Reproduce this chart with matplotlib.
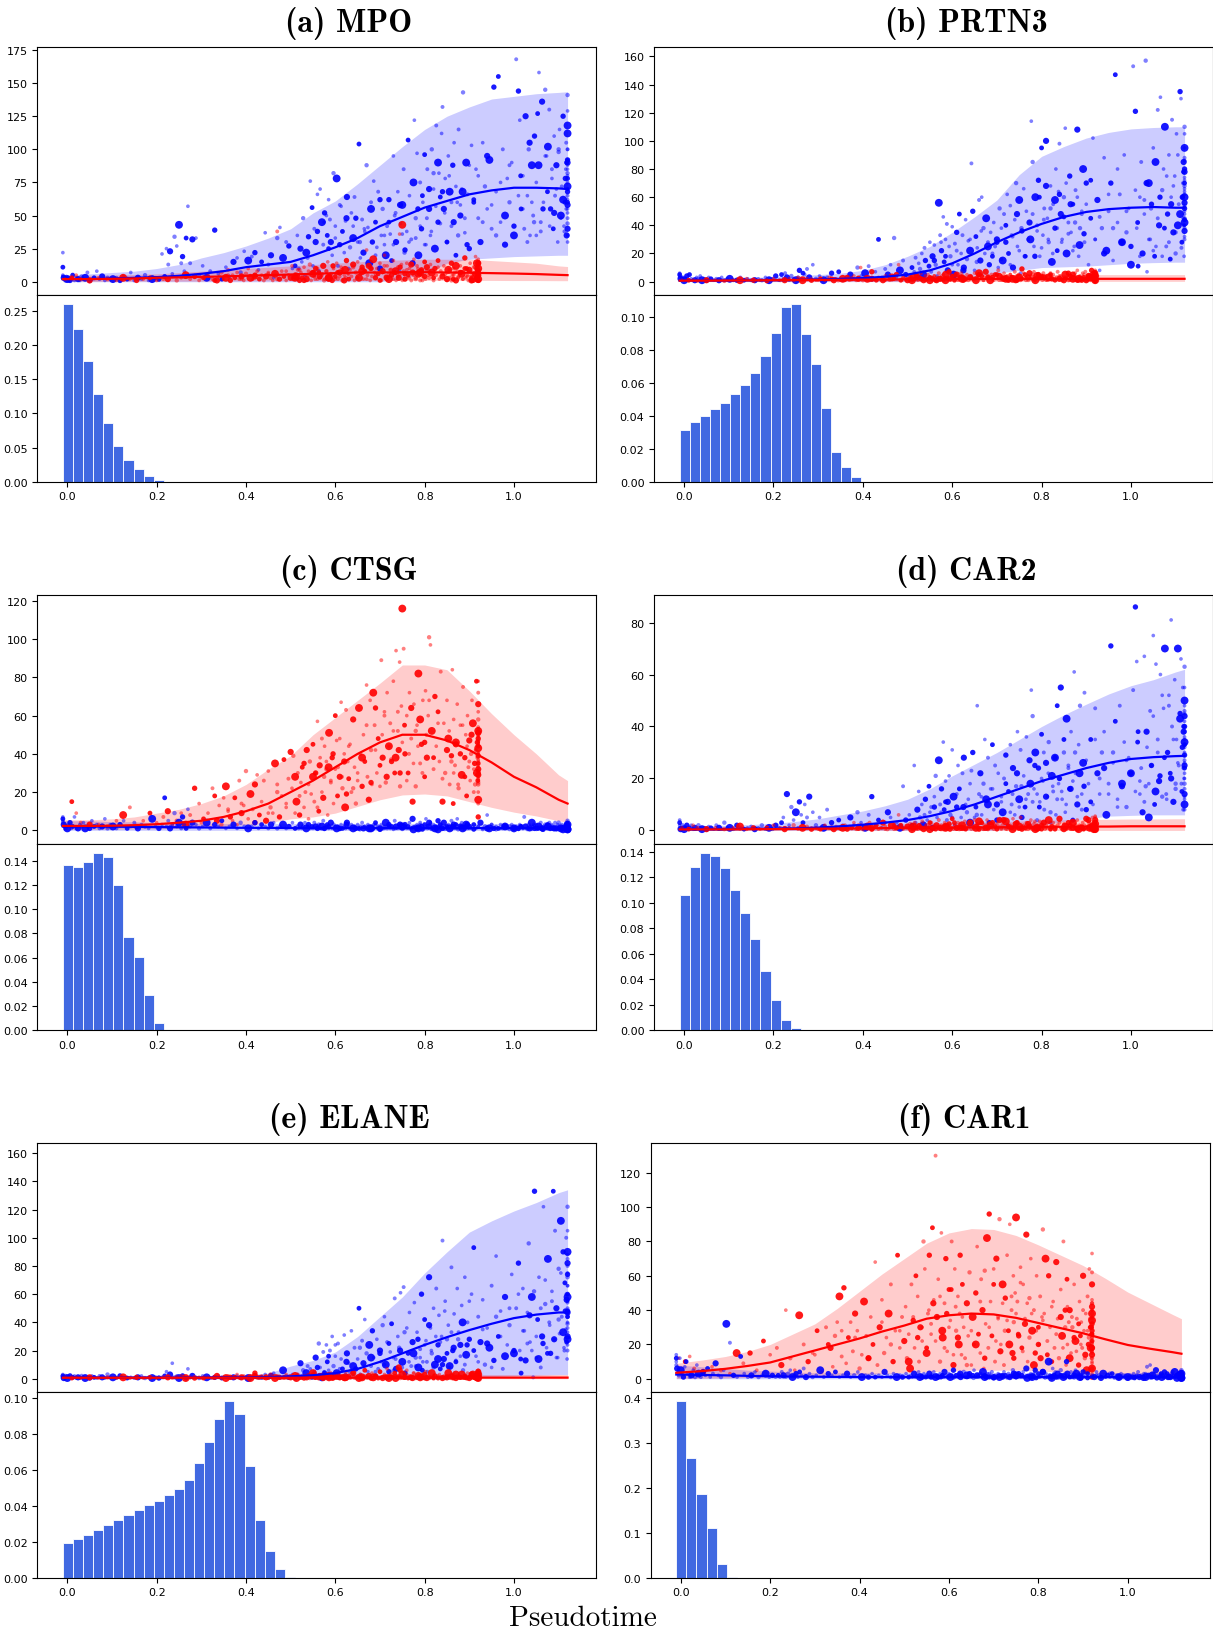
import numpy as np
import matplotlib
matplotlib.use("Agg")
import matplotlib.pyplot as plt

W, H = 1213, 1633
TITLES = ["(a) MPO", "(b) PRTN3", "(c) CTSG", "(d) CAR2", "(e) ELANE", "(f) CAR1"]

KX = [-0.01,0.05,0.1,0.15,0.2,0.25,0.3,0.35,0.4,0.45,0.5,0.55,0.6,0.65,0.7,0.75,0.8,0.85,0.9,0.95,1.0,1.05,1.1,1.12]

BLUE_X = [
[-0.01,-0.01,-0.01,-0.01,-0.008,-0.006,-0.004,-0.002,0.0,0.003,0.006,0.009,0.012,0.016,0.02],
[.024,.028,.032,.036,.04,.045,.05,.055,.06,.066,.072,.078,.084,.09,.096],
[.102,.11,.118,.126,.134,.142,.15,.158,.166,.174,.182,.19,.198,.205,.212],
[.218,.222,.226,.23,.235,.24,.245,.25,.255,.258,.262,.266,.27,.275,.28],
[.288,.295,.303,.312,.32,.33,.338,.346,.355,.363,.372,.38,.388,.396,.405],
[.413,.42,.428,.435,.443,.45,.456,.462,.47,.476,.483,.49,.496,.504,.51],
[.515,.518,.522,.525,.528,.532,.535,.538,.54,.544,.548,.55,.553,.556,.56,.563,.566,.57,.573,.576],
[.58,.582,.585,.588,.59,.593,.596,.6,.603,.606,.61,.613,.616,.62,.623,.626,.63,.633,.636,.64],
[.643,.646,.65,.653,.656,.66,.663,.666,.67,.673,.676,.68,.683,.686,.69,.693,.696,.7,.703,.706],
[.71,.713,.716,.72,.723,.726,.73,.733,.736,.74,.743,.746,.75,.753,.756,.76,.763,.766,.77,.773],
[.777,.78,.783,.786,.79,.793,.796,.8,.803,.806,.81,.813,.816,.82,.823,.826,.83,.832,.835,.838],
[.84,.843,.846,.85,.853,.856,.86,.863,.866,.87,.873,.876,.88,.883,.886,.89,.893,.896,.9,.905],
[.91,.915,.92,.925,.93,.935,.94,.945,.95,.955,.96,.965,.97,.975,.98,.985,.99,.995,1.0,1.005],
[1.01,1.013,1.016,1.02,1.023,1.026,1.03,1.033,1.036,1.04,1.043,1.046,1.05,1.053,1.056,1.06,1.063,1.066,1.07,1.073],
[1.076,1.079,1.082,1.085,1.088,1.09,1.092,1.095,1.098,1.1,1.102,1.105,1.107,1.11,1.112,1.114,1.116,1.117,1.118,1.119],
[1.12]*15,
[.56,.575,.585,.6,.61,.625,.64,.655,.665,.68,.69,.7,.71,.72,.73,.735,.745,.75,.755,.765],
[.775,.78,.785,.79,.795,.8,.805,.81,.815,.82,.825,.83,.835,.84,.845,.85,.855,.86,.865,.87],
[.875,.88,.885,.89,.895,.9,.91,.92,.93,.94,.95,.96,.97,.98,.99,1.0,1.01,1.015,1.02,1.03],
[1.035,1.04,1.045,1.05,1.055,1.06,1.065,1.07,1.075,1.08,1.085,1.09,1.095,1.1,1.105,1.11,1.113,1.115,1.117,1.118],
[1.12]*15,
]
RED_X = [
[-.005,.01,.02,.03,.05,.07,.09,.11,.125,.14,.155,.17,.185,.2,.215],
[.225,.235,.245,.255,.265,.275,.285,.295,.305,.315,.325,.335,.34,.345,.35],
[.355,.36,.365,.37,.375,.38,.385,.39,.395,.4,.405,.41,.415,.42,.425],
[.43,.435,.44,.445,.45,.455,.46,.465,.47,.475,.48,.485,.49,.495,.5],
[.503,.506,.51,.513,.516,.52,.523,.526,.53,.533,.536,.54,.543,.546,.55,.553,.556,.56,.563,.566],
[.57,.573,.576,.58,.583,.586,.59,.593,.596,.6,.603,.606,.61,.613,.616,.62,.622,.624,.625,.628],
[.63,.633,.636,.64,.643,.646,.65,.653,.656,.66,.663,.666,.67,.672,.675,.678,.68,.682,.685,.688],
[.69,.693,.696,.7,.703,.706,.71,.713,.716,.72,.723,.726,.73,.733,.736,.74,.742,.744,.745,.748],
[.75,.753,.756,.76,.763,.766,.77,.773,.776,.78,.783,.786,.79,.793,.796,.8,.802,.804,.805,.808],
[.81,.813,.816,.82,.823,.826,.83,.833,.836,.84,.843,.846,.85,.853,.856,.86,.862,.864,.865,.868],
[.87,.873,.876,.88,.883,.886,.89,.892,.894,.896,.898,.9,.902,.904,.906,.908,.91,.912,.914,.916],
[.92]*20,
[.3,.33,.36,.39,.42,.45,.47,.49,.51,.52,.53,.54,.55,.555,.56,.565,.57,.575,.58,.585],
[.59,.595,.6,.605,.61,.615,.62,.63,.64,.65,.66,.67,.68,.69,.7,.705,.71,.715,.72,.725],
[.73,.735,.74,.745,.75,.755,.76,.765,.77,.775,.78,.785,.79,.795,.8,.81,.82,.83,.84,.85],
[.855,.86,.865,.87,.875,.88,.885,.89,.895,.9,.905,.91,.913,.915,.917,.918,.918,.919,.919,.919],
[.92]*15,
]

MPO_BLUE = [
[22,11,5,4,3,2,1,4,2,3,1,2,5,1,3],[2,1,4,2,3,7,1,2,3,8,2,4,1,3,2],[2,3,1,4,2,7,1,3,2,5,1,2,3,2,21],
[4,25,13,23,6,34,27,43,14,19,8,33,57,14,32],[33,5,12,3,8,39,6,2,11,4,15,18,7,23,16],[19,22,9,15,37,13,20,3,33,41,18,30,27,10,12],
[35,10,25,15,48,5,22,18,34,76,56,12,40,30,66,8,70,45,28,52],[50,35,62,47,30,20,82,42,78,12,28,57,38,22,46,64,10,26,52,33],
[64,48,30,104,18,47,22,38,88,41,14,60,30,76,45,26,68,10,35,55],[28,20,42,62,36,16,95,50,30,68,8,44,58,85,24,38,107,65,32,14],
[122,48,97,20,75,40,60,96,28,85,55,35,100,70,25,118,45,82,64,112],[132,55,78,30,95,68,42,88,105,20,60,115,50,70,143,37,90,66,25,103],
[62,85,48,30,105,72,55,92,40,147,68,155,45,100,28,78,60,90,35,168],[144,122,55,80,40,125,65,100,35,88,50,110,35,127,158,45,136,60,145,95],
[102,130,55,78,40,110,65,88,30,98,115,50,72,125,42,60,85,105,35,92],[141,129,118,100,92,85,78,70,65,58,52,44,30,112,75],
[38,45,25,33,58,48,42,30,40,55,20,62,35,45,28,52,58,36,22,30],[75,33,55,42,65,28,48,70,38,82,57,90,44,68,52,30,80,60,45,72],
[35,58,68,48,28,88,60,80,45,95,58,35,75,50,88,42,65,80,55,30],[105,60,45,75,88,38,55,95,68,42,85,52,70,100,48,62,38,78,55,90],
[100,92,90,88,82,80,72,70,68,62,60,55,48,40,35],
]
MPO_RED = [
[2,3,5,2,1,3,2,1,3,2,1,2,3,1,2],[2,4,1,3,5,2,4,1,3,6,2,1,4,7,2],[3,9,1,5,3,7,2,4,1,6,10,3,2,5,8],[2,5,1,4,7,3,1,6,38,2,8,4,1,5,3],
[12,2,6,4,9,1,7,3,11,5,2,8,13,1,6,4,10,2,7,3],[5,12,2,8,15,3,6,1,10,4,14,2,7,11,1,5,9,3,16,6],[2,9,4,13,1,7,15,3,6,11,2,8,24,5,12,1,10,4,17,7],
[3,10,6,14,1,8,20,4,12,2,9,5,16,7,1,11,3,36,6,13],[43,8,2,14,5,10,1,7,17,3,12,6,1,9,4,15,2,8,11,5],[3,13,7,1,10,5,16,2,8,4,12,6,1,9,3,14,5,2,10,7],
[1,8,4,12,6,2,18,3,10,5,1,9,14,4,7,2,11,6,19,3],[17,15,14,13,12,11,10,9,8,7,6,6,5,5,4,3,3,2,1,1],
[3,1,5,2,4,6,2,8,3,9,1,5,7,2,10,4,6,1,8,3],[5,12,2,7,4,9,1,6,11,3,8,2,10,5,1,7,12,3,6,9],
[2,8,4,11,1,6,9,3,13,5,2,10,7,1,4,8,3,11,6,2],[9,1,5,12,3,7,2,10,4,8,1,6,11,3,14,5,9,2,7,4],
]
PRTN3_BLUE = [
[6,5,4,3,2,1,3,2,1,2,4,1,5,2,1],[1,3,2,4,1,2,1,3,2,1,2,1,3,1,2],[2,1,1,3,1,2,1,1,2,1,3,1,2,4,1],[5,2,6,3,1,4,2,1,3,8,2,6,5,9,3],
[12,2,4,1,3,6,2,7,1,3,5,2,10,4,6],[11,2,7,30,3,9,5,12,31,2,8,15,5,4,10],[7,17,3,13,9,20,5,24,15,2,11,28,7,18,26,12,4,56,33,22],
[46,14,30,41,8,25,18,39,5,27,35,12,48,20,33,10,44,16,29,22],[84,50,8,32,24,58,15,60,38,20,45,28,12,35,18,42,25,30,10,52],
[38,15,48,28,62,20,54,33,10,44,70,25,58,6,36,66,18,50,30,42],[114,85,25,60,40,72,18,95,33,52,100,45,28,68,14,55,38,80,22,64],
[98,48,30,60,109,20,42,75,35,55,25,65,108,18,38,50,80,28,70,12],[45,102,30,58,8,38,88,22,50,70,15,147,42,62,28,90,35,52,12,153],
[121,38,11,60,85,20,48,157,7,70,30,55,95,18,25,122,40,131,65,80],[110,25,48,90,16,60,115,35,75,20,105,40,55,135,130,28,70,45,85,18],
[110,105,95,88,80,74,70,66,62,56,50,45,40,42,30],
[15,28,18,12,22,8,30,14,36,25,20,28,16,40,12,32,48,22,38,18],[30,48,18,36,60,24,44,68,30,52,20,58,38,62,28,46,70,34,55,22],
[42,60,26,48,34,55,72,30,46,20,62,38,80,28,50,25,65,42,18,58],[70,30,52,22,85,45,60,18,38,75,28,55,68,35,90,48,24,60,40,78],
[95,86,78,72,68,64,60,54,52,48,44,40,38,36,32],
]
PRTN3_RED = [
[1,1,1,.5,1,1,.5,1,1,2,1,1,.5,2,1],[1,2,1,3,1,2,1,1,2,1,3,1,2,1,1],[2,1,3,1,2,4,1,2,10,1,3,2,1,7,2],[1,3,2,1,4,2,1,3,2,5,12,1,3,2,1],
[2,4,1,3,2,5,1,3,6,2,1,4,2,5,1,3,2,4,1,3],[6,2,4,1,3,5,2,7,1,4,3,2,5,1,3,6,2,4,1,3],[2,5,1,3,4,2,6,1,3,5,2,4,1,3,7,2,4,3,1,5],
[3,1,5,2,8,4,1,3,6,2,4,1,5,3,2,7,1,4,2,5],[3,1,9,2,5,3,1,6,4,2,7,1,3,5,2,4,1,6,3,2],[4,1,3,6,2,5,1,3,7,2,4,1,3,5,2,6,1,4,2,3],
[5,1,3,8,2,4,1,6,3,2,7,1,4,2,5,3,1,8,2,4],[8,7,6,5,5,4,4,3,3,3,2,2,2,2,1,1,1,1,.5,.5],
[1,2,1,3,2,1,2,3,1,4,2,1,3,2,4,1,3,2,5,1],[3,2,4,1,5,2,3,1,4,2,6,1,3,2,5,1,4,2,3,1],
[5,2,3,1,4,2,6,1,3,2,5,1,4,2,3,1,5,2,4,1],[3,1,4,2,6,1,3,2,5,1,4,2,3,1,5,2,6,1,3,2],
]
CTSG_BLUE = [
[7,6,5,4,3,2,1,2,1,3,4,1,2,7,1],[1,3,2,4,1,2,1,5,2,3,1,2,6,1,3],[2,1,3,5,1,2,4,1,3,2,1,6,2,1,3],[17,2,5,1,3,9,2,4,1,7,3,1,11,2,4],
[3,1,2,4,1,3,2,5,1,2,3,1,4,2,1],[2,4,1,3,2,1,3,4,1,2,3,1,2,4,1],[2,1,3,1,2,4,1,2,3,1,2,1,4,2,1,3,1,2,5,1],[2,3,1,2,4,1,3,2,1,2,1,3,1,2,1,4,2,1,3,1],
[2,1,3,1,2,4,1,2,1,3,1,2,1,3,4,1,2,1,3,1],[2,4,1,3,1,2,1,5,2,1,3,1,2,1,3,1,2,4,1,6],[2,1,3,1,4,2,1,3,6,1,2,4,1,3,1,2,5,1,3,2],
[1,4,2,1,3,1,5,2,1,3,6,1,2,4,1,2,3,1,2,1],[3,1,2,4,1,2,8,1,3,1,2,1,3,1,2,1,2,3,1,2],[1,3,2,1,7,2,1,3,1,4,2,1,3,1,2,4,1,2,3,1],
[2,4,1,3,1,2,4,1,3,1,2,1,3,1,2,1,3,2,1,2],[5,4,3,3,2,2,2,1,1,1,1,.5,.5,.5,.5],
[1,.5,2,1,.5,3,1,.5,2,1,3,.5,1,2,.5,1,3,.5,2,1],[.5,2,1,3,.5,1,2,4,.5,1,2,.5,3,1,.5,2,1,.5,3,1],
[.5,2,1,.5,3,1,.5,2,.5,1,3,.5,1,2,.5,1,.5,2,1,.5],[1,.5,3,.5,2,1,.5,1,3,.5,2,1,.5,4,1,.5,2,1,.5,3],
[4,3,2,2,1,1,.5,.5,3,2,1,1,.5,.5,.5],
]
CTSG_RED = [
[2,15,9,4,3,3,2,5,8,12,2,5,9,4,7],[10,3,5,9,3,8,22,14,6,9,22,5,13,3,17],[23,11,7,5,17,3,26,9,13,31,6,19,11,4,29],[8,15,26,5,31,12,9,35,24,7,18,37,12,27,41],
[22,39,9,15,30,8,25,33,12,20,42,6,36,19,28,15,30,57,10,38],[48,17,44,32,8,51,25,38,14,60,47,33,28,67,22,40,12,63,19,36],
[27,45,20,58,33,14,26,64,40,23,50,36,76,28,16,68,42,24,72,55],[64,30,48,23,89,38,62,25,72,44,56,36,78,30,94,52,42,88,23,65],
[116,95,40,60,30,72,48,15,66,23,55,82,35,45,68,28,73,50,38,60],[101,97,52,32,70,44,62,36,83,15,56,30,68,48,24,39,84,14,58,34],
[45,66,22,55,29,75,38,50,18,60,33,47,26,40,68,56,20,35,42,78],[78,72,66,62,58,54,52,50,48,46,44,40,36,32,28,24,20,16,14,7],
[4,18,10,14,24,9,20,14,28,18,35,24,45,30,12,34,20,28,36,33],[26,40,32,18,48,28,36,44,22,30,38,55,25,42,34,50,60,28,44,37],
[52,38,62,30,46,55,26,40,64,35,52,44,58,30,46,68,38,56,27,42],[52,36,30,46,24,40,55,28,44,36,50,32,24,42,30,38,46,34,26,40],
[53,51,49,47,45,43,41,39,37,35,33,31,29,27,25],
]
CAR2_BLUE = [
[4,3,2,1,.5,1,2,1,.5,1,2,.5,1,2,.5],[1,.5,2,1,.5,1,.5,1.5,1,.5,2,1,.5,3,1],[1,.5,2,1,.5,1,1.5,.5,1,2,.5,1,.5,2,1],[3,5,1,14,2,9,4,7,1,11,6,3,10,5,13],
[7,2,5,1,8,3,1,4,2,1,5,2,7,3,1],[6,13,2,4,1,3,7,5,2,3,1,17,4,6,2],[25,3,8,15,5,10,2,6,12,4,17,7,9,1,13,21,5,27,10,16],
[34,8,19,4,11,21,6,31,13,2,9,25,16,5,22,28,10,7,12,3],[23,30,5,9,48,14,22,6,18,35,12,28,3,16,33,8,25,10,22,4],[13,7,20,29,2,15,33,10,24,6,17,38,12,31,5,21,9,36,14,27],
[54,44,16,30,4,24,11,37,19,8,26,13,34,3,21,15,28,6,48,18],[20,55,12,30,7,43,25,16,38,4,61,22,10,33,48,14,26,53,8,18],[35,10,47,22,14,30,38,6,18,71,26,42,12,48,17,34,9,28,22,54],
[86,65,38,14,24,7,67,17,32,5,46,25,75,10,64,35,19,60,13,47],[70,14,30,52,22,81,40,11,58,18,35,70,25,45,66,15,55,8,38,20],[63,55,50,45,40,35,33,30,27,25,22,18,13,10,8],
[9,7,11,5,14,9,18,6,13,10,16,4,11,18,7,14,22,9,17,12],[18,11,25,14,9,20,30,13,22,7,17,28,12,20,15,35,10,24,16,19],
[30,13,22,8,17,27,11,35,20,24,14,30,9,18,27,22,15,34,19,11],[38,18,25,44,15,30,21,52,28,12,48,20,35,16,26,43,18,32,24,40],
[48,46,44,42,38,36,34,32,29,26,24,20,16,14,12],
]
CAR2_RED = [
[1,.5,2,1,.5,1,.5,1,1.5,.5,1,.5,1,2,1],[.5,1,2,.5,1,1.5,.5,1,.5,2,1,.5,1.5,1,.5],[1,2,.5,1.5,1,3,.5,1,2,.5,1,1.5,3,.5,1],[2,.5,1,3,1.5,.5,1,2,.5,1,6,2,.5,1,1.5],
[1,2.5,.5,1.5,3,1,.5,2,1,3.5,.5,1.5,2,1,.5,3,1,2,.5,1.5],[4,1,2,.5,3,1.5,.5,2.5,1,4.5,.5,2,1,3,.5,1.5,2,.5,1,3.5],[.5,2,1,3,.5,1.5,4,1,2.5,.5,1,3,.5,2,1,4,.5,1.5,2,1],
[3,.5,1.5,2.5,1,4,.5,2,1,3.5,.5,1.5,2,1,4.5,.5,2.5,1,3,.5],[1.5,5,.5,2,1,3,.5,1.5,4,1,2.5,.5,2,1,3.5,.5,1.5,1,3,.5],[2,1,4,.5,1.5,3,.5,1,2,4.5,1,.5,2.5,1.5,.5,3,1,2,.5,3.5],
[1,.5,2,4,.5,1.5,1,3,.5,2,1,4.5,.5,1.5,3,1,.5,2,5,1],[5.5,5,4,3.5,3,3,2.5,2,2,1.5,1.5,1,1,1,.5,.5,.5,.5,.2,.2],
[.5,1,.5,2,1,.5,1.5,1,.5,2,1,.5,3,1,.5,2,1,.5,1.5,1],[2,.5,1,3,.5,1.5,1,.5,2,1,3.5,.5,1,2,.5,1.5,1,4,.5,2],
[1,.5,2,3,.5,1,1.5,.5,2.5,1,.5,3.5,1,.5,2,1,.5,1.5,3,.5],[2,1,.5,3,1,.5,2,1.5,.5,1,4,.5,1.5,1,.5,2,1,.5,3,1],
]
ELANE_BLUE = [
[3,2,1,1,.5,1,2,1,.5,1,2,.5,1,2,.5],[1,.5,2,1,.5,1,.5,2,1,.5,2,1,.5,3,1],[1,.5,2,1,.5,1,.5,1,2,.5,1,.5,1,.5,1],[2,5,1,3,11,1,2,.5,1,2,1,.5,7,1,2],
[1,.5,2,1,.5,1,2,.5,1,.5,1,2,.5,1,.5],[1,2,.5,1,3,.5,2,4,1,.5,6,2,1,3,.5],[3,1,11,2,6,1,4,9,2,7,1,3,5,15,2,25,8,1,19,4],
[24,12,6,20,2,30,9,16,4,25,1,14,7,31,3,18,11,5,34,9],[22,7,14,50,3,27,11,42,18,5,24,9,34,15,2,28,7,20,12,38],[44,10,26,5,19,39,15,57,7,30,22,61,12,65,4,36,18,47,9,26],
[54,15,33,8,21,60,12,42,27,5,72,36,18,50,10,64,24,45,7,30],[98,14,55,28,38,9,79,20,46,12,64,33,24,52,6,72,17,40,28,60],[93,16,44,26,56,10,36,22,66,13,87,30,48,7,58,24,38,74,18,50],
[82,20,4,64,34,13,47,96,26,58,1,133,15,42,72,8,30,122,53,22],[85,40,18,62,133,28,105,50,15,78,32,112,44,90,22,68,35,100,56,14],[122,105,90,80,74,66,60,55,50,47,44,39,33,28,20],
[8,5,16,24,7,12,3,22,9,15,5,18,10,25,6,14,20,8,33,12],[18,9,28,15,6,24,12,38,20,8,30,14,26,10,48,18,8,33,22,13],
[28,16,40,10,24,55,20,12,35,25,8,44,30,16,50,20,60,14,34,25],[45,20,62,30,14,50,25,70,18,38,55,28,15,42,75,33,20,48,60,26],
[88,85,82,75,72,66,58,54,48,46,44,40,36,30,24],
]
ELANE_RED = [
[1,.5,1,.5,1,.5,1,.5,1,.5,1,.5,1,.5,1],[1,.5,1,2,.5,1,.5,1,.5,1,.5,2,1,.5,1],[.5,2,1,.5,1,3,.5,1,2,.5,1,.5,1,4,.5],[1,2,.5,1,.5,3,1,.5,2,1,.5,1,3,.5,1],
[.5,2,1,.5,3,1,.5,1,2,.5,1,3,.5,1,4,.5,1,2,.5,1],[3,.5,1,2,.5,1,4,.5,2,1,.5,3,1,.5,2,.5,1,5,.5,1],[2,.5,1,4,.5,1,2,.5,3,1,.5,6,1,.5,2,1,.5,4,1,.5],
[2,1,.5,5,1,.5,3,1,7,.5,2,1,.5,4,1,.5,8,2,.5,1],[3,.5,1,6,.5,2,1,.5,4,1,.5,2,.5,1,3,.5,5,1,.5,2],[.5,1,4,.5,2,1,.5,3,1,.5,2,.5,1,4,.5,2,1,.5,3,1],
[.5,2,1,.5,3,.5,1,2,.5,4,1,.5,2,1,.5,3,.5,1,2,.5],[6,5,5,4,4,3,3,3,2,2,2,1,1,1,1,.5,.5,.5,.5,.2],
[.5,1,.5,1,2,.5,1,.5,2,1,.5,1,3,.5,1,2,.5,1,.5,2],[1,.5,3,1,.5,2,.5,1,4,.5,1,2,.5,1,5,.5,2,1,.5,3],
[1,.5,2,6,.5,1,3,.5,1,4,.5,2,1,.5,3,1,.5,2,.5,1],[2,.5,1,3,.5,1,.5,2,1,.5,3,1,.5,2,1,.5,4,1,.5,2],
]
CAR1_BLUE = [
[14,12,10,8,6,4,2,12,5,3,1,7,10,3,1],[2,5,1,8,3,1,4,2,6,1,3,9,2,1,5],[32,21,2,1,13,3,1,2,4,1,2,3,1,2,1],[2,1,4,2,1,3,5,1,2,3,1,4,2,6,1],
[3,1,2,5,1,3,2,4,1,2,3,1,2,4,1],[2,1,3,1,2,1,4,2,1,3,1,2,1,3,1],[2,1,3,1,2,4,1,2,1,3,1,2,1,3,1,2,4,1,2,1],[3,1,2,1,4,2,1,3,1,2,5,1,2,1,3,1,2,4,1,2],
[1,3,1,2,5,1,2,1,3,1,4,2,1,3,1,2,4,1,2,1],[3,1,2,1,4,2,1,3,1,2,5,1,2,1,3,1,2,4,1,6],[2,1,3,1,2,5,1,3,1,2,4,1,3,1,10,2,1,6,2,4],
[1,3,1,5,2,1,3,10,2,1,4,1,2,5,1,3,1,2,4,1],[3,1,2,1,4,2,1,3,1,2,1,3,1,2,1,3,1,2,1,2],[1,3,1,2,4,1,2,1,3,1,7,2,8,1,3,1,5,2,1,3],
[1,2,4,1,3,1,2,1,3,1,2,4,1,2,1,3,1,2,1,3],[5,4,3,3,2,2,2,1,1,1,1,.5,.5,.5,.5],
[1,.5,2,1,.5,3,1,.5,2,1,3,.5,1,2,.5,1,3,.5,2,1],[.5,2,1,3,.5,1,2,4,.5,1,2,.5,3,1,.5,2,1,.5,3,1],
[1,.5,3,1,.5,2,.5,1,2,.5,1,3,.5,1,2,.5,1,.5,2,1],[.5,3,1,.5,2,1,.5,1,3,.5,2,1,.5,4,1,.5,2,1,.5,3],
[4,3,2,2,1,1,.5,.5,3,2,1,1,.5,.5,.5],
]
CAR1_RED = [
[12,10,13,6,4,7,5,3,15,9,15,5,22,14,18],[8,40,12,5,37,20,10,15,28,4,30,18,7,25,33],[48,13,53,9,24,33,16,38,28,6,14,45,25,12,36],[20,68,8,30,46,15,24,38,55,10,28,72,18,36,22],
[42,12,26,6,55,34,18,60,48,10,30,22,80,64,15,38,72,26,88,46],[130,36,58,10,85,24,44,70,16,52,34,80,8,64,28,48,20,38,72,14],[55,30,12,44,25,62,8,36,20,50,77,26,15,58,40,6,63,32,82,18],
[96,45,25,64,10,70,35,93,20,55,8,47,72,28,90,40,15,60,33,50],[94,45,25,65,18,55,35,84,10,47,70,28,40,15,60,30,20,48,12,36],[87,38,70,22,60,30,10,45,18,68,35,12,52,25,80,40,8,58,20,33],
[40,15,30,55,22,35,8,45,25,33,18,60,28,12,38,5,48,20,64,30],[73,62,55,46,44,40,38,35,32,30,26,24,21,18,15,12,9,6,3,1],
[14,20,28,24,12,33,20,28,10,36,24,30,18,40,32,44,22,36,48,28],[18,38,30,52,14,42,24,36,8,28,20,45,12,30,55,22,36,16,44,28],
[34,20,48,12,38,26,56,16,32,44,24,38,8,28,20,34,14,42,26,36],[18,30,42,12,36,24,16,32,20,40,14,28,24,35,18,22,30,12,26,16],
[44,42,40,38,36,34,30,28,24,22,20,16,14,10,6],
]

MPO_B = [[2,2,2.5,3,3.5,4.5,6,8,11,13,15,20,26,33,42,49,56,61,66,69,71,71,70.5,70],
         [0]*14+[0,2,6,14,17,18,19,19.5,20,20],
         [5,6,7,8,10,13,18,22,27,33,40,52,61,74,88,102,115,125,132,138,140,142,143,143.5]]
MPO_R = [[2,2,2.2,2.5,3,3.3,3.7,4,4.5,5,5.5,6,6.5,7,7,7.2,7.2,7,6.8,6.5,6.2,5.8,5.2,5],
         [.3,.3,.3,.4,.4,.5,.5,.6,.7,.8,.8,.9,1,1,1,1,1,1,1,1,.9,.9,.8,.8],
         [4,5,5,5.5,6,7,8,9,10,11,12,13,14,15,16,16.5,17,17,17,16,15,14,12,11.5]]
PRTN3_B = [[.8,.8,.8,.9,1,1.2,1.5,2,2.5,3.5,5,8,13,20,28,35,41,46,49.5,51.5,52.5,53,52.5,52.5],
           [0]*12+[1,3,6,8,10,10.5,11,12,13,13.5,13.8,13.8],
           [2,2.5,3,3,3.5,4,5,6,8,12,18,25,35,46,58,76,89,96,102,106,108.5,109.5,110,110]]
PRTN3_R = [[.7,.7,.8,.9,1,1.1,1.2,1.3,1.4,1.5,1.6,1.7,1.8,1.9,2,2,2,2,2,2,2,2,2,2],
           [.1,.1,.1,.1,.1,.1,.1,.1,.1,.1,.1,.1,.1,.1,.2,.2,.2,.2,.2,.2,.2,.2,.2,.2],
           [1.5,1.5,2,2,2.5,2.5,3,3,3.5,3.5,4,4,4.5,4.5,5,5,5,5,5,5,5,5,5,5]]
CTSG_B = [[2,2,1.9,1.8,1.7,1.6,1.5,1.4,1.3,1.3,1.2,1.2,1.2,1.2,1.2,1.2,1.2,1.2,1.2,1.2,1.2,1.2,1.2,1.2],
          [0]*24,
          [5,5,4.5,4.5,4,4,3.5,3.5,3.5,3.5,3.5,3.5,3.5,3.5,3.5,3.5,3.5,3.5,3.5,3.5,3.5,3.5,3.5,3.5]]
CTSG_R = [[2.3,2.3,2.4,2.7,3.2,4,5,7,10,14,20,26,33,40,46,50,50,47,42,35.5,28,22.5,16,14],
          [.5,.5,.6,.7,.8,1,1.5,2,3,4,6,7,9,12.5,16,18.5,19,18,15,12,9.5,7.5,5,4.2],
          [5.5,5.5,6,7,9,11,14,18,24,32,39,50,59,68,77,86.5,86.5,84,73,61,50,40,29,26]]
CAR2_B = [[.4,.4,.5,.6,.7,.8,1.1,1.6,2.2,3,4,5.5,7.5,10,13,16,19,21.5,24,26,27.5,28.2,28.6,28.7],
          [0]*15+[1,2,3.5,4.5,5.5,5.8,6,6,6],
          [1.5,1.8,2,2.3,2.7,3.5,4.5,6,7.5,9.5,12,16,21,25.5,30,35,40,44.5,48.6,52.5,55.7,58,61,62]]
CAR2_R = [[.4,.4,.4,.5,.5,.6,.7,.7,.8,.9,1,1,1.1,1.2,1.2,1.3,1.4,1.4,1.5,1.5,1.6,1.6,1.6,1.6],
          [0]*24,
          [1.2,1.3,1.4,1.5,1.6,1.7,1.8,2,2.2,2.4,2.6,2.8,3,3.2,3.4,3.6,3.9,4.1,4.2,4.3,4.4,4.4,4.5,4.5]]
ELANE_B = [[.8,.8,.8,.8,.8,.8,.8,.9,1,1.2,1.7,2.5,4,7,12,18,24,29.5,34.5,39,43,45.5,47,47],
           [0]*18+[1,1.5,2,2.5,3,3],
           [2,2,2,2,2,2,2,2.5,3,4,9,13,19,30,44,58,75,90,104,112,119,125,132,134]]
ELANE_R = [[.7,.7,.7,.7,.7,.7,.7,.7,.7,.7,.7,.8,.8,.8,.8,.8,.8,.8,.8,.8,.8,.8,.8,.8],
           [0]*24,
           [1.5,1.5,1.5,1.5,1.5,1.5,2,2,2,2,2.5,2.5,2.5,3,3,3,3,3,3,3,3,3,3,3]]
CAR1_B = [[2.5,2.2,2,1.7,1.5,1.3,1.2,1.1,1,1,1,1,1,1,1,1,1,1,1,1,1,1,1,1],
          [0]*24,
          [8,7,6,5,4.5,4,3.5,3.5,3.5,3.5,3.5,3.5,3.5,3.5,3.5,3.5,3.5,3.5,3.5,3.5,3.5,3.5,3.5,3.5]]
CAR1_R = [[3.5,4.5,5.8,7.5,9.5,13,16.5,20,23.5,27.5,31,35,37,38,37.5,35.5,32.5,29.5,26.5,23,19.7,17.5,15.5,14.6],
          [.2,.3,.5,.8,1,1.2,1.5,2,2.5,3,3.5,4,4.5,5,5,5,4.5,4,3.5,3,2.5,2.5,2,2],
          [9,11,13,16,20,26,32,41,51,61,70,79,85,87.5,87,83.5,78,72,66,58.5,50.5,44,37.5,35]]

MPO_HIST = [0.26,0.223,0.176,0.128,0.086,0.052,0.032,0.019,0.009,0.003]
PRTN3_HIST = [0.0315,0.036,0.040,0.044,0.048,0.053,0.0585,0.066,0.0765,0.0905,0.106,0.108,0.090,0.0715,0.0445,0.0182,0.009,0.0028]
CTSG_HIST = [0.137,0.135,0.139,0.147,0.1435,0.1205,0.077,0.0605,0.029,0.0055]
CAR2_HIST = [0.1065,0.1285,0.1395,0.137,0.1275,0.110,0.092,0.0715,0.0465,0.0238,0.0082,0.0015]
ELANE_HIST = [0.0195,0.0217,0.024,0.0266,0.0293,0.0322,0.035,0.0376,0.0403,0.0428,0.0458,0.0495,0.0546,0.0637,0.0753,0.0882,0.0985,0.0913,0.062,0.032,0.0148,0.0048,0.0005]
CAR1_HIST = [0.393,0.267,0.186,0.110,0.030,0.001]
HIST_START, HIST_W = -0.01, 0.0226

PANELS = [
 (MPO_BLUE,MPO_RED,MPO_B,MPO_R,MPO_HIST,(-10,177.5),[0,25,50,75,100,125,150,175],[0,.05,.1,.15,.2,.25],"%.2f",False),
 (PRTN3_BLUE,PRTN3_RED,PRTN3_B,PRTN3_R,PRTN3_HIST,(-9.5,166.9),[0,20,40,60,80,100,120,140,160],[0,.02,.04,.06,.08,.1],"%.2f",False),
 (CTSG_BLUE,CTSG_RED,CTSG_B,CTSG_R,CTSG_HIST,(-7,123.1),[0,20,40,60,80,100,120],[0,.02,.04,.06,.08,.1,.12,.14],"%.2f",True),
 (CAR2_BLUE,CAR2_RED,CAR2_B,CAR2_R,CAR2_HIST,(-5.1,90.6),[0,20,40,60,80],[0,.02,.04,.06,.08,.1,.12,.14],"%.2f",False),
 (ELANE_BLUE,ELANE_RED,ELANE_B,ELANE_R,ELANE_HIST,(-9.4,167),[0,20,40,60,80,100,120,140,160],[0,.02,.04,.06,.08,.1],"%.2f",False),
 (CAR1_BLUE,CAR1_RED,CAR1_B,CAR1_R,CAR1_HIST,(-7.7,137.2),[0,20,40,60,80,100,120],[0,.1,.2,.3,.4],"%.1f",True),
]
ROWS = [(47.7,296,482.7),(596,844.7,1031),(1144.3,1393,1578.6)]
COLS = [(37.4,595.7),(654.2,1212.7),(37.4,595.7),(654.2,1212.7),(37.4,595.7),(650.8,1209.6)]
TITLE_X = [349,966,349,966,349,964]
TITLE_Y = [24,572,1120]
SIZE_CYCLE = [7,12,7,8,20,7,10,7,32,8,15]
XLIM = (-0.067,1.183)
TICK = 8

fig = plt.figure(figsize=(W/100,H/100),dpi=100)

def box(l,r,t,b):
    return [l/W,1-b/H,(r-l)/W,(b-t)/H]

def scatter(ax,xrows,yrows,color,z):
    xs,ys=[],[]
    for xr,yr in zip(xrows,yrows):
        for a,b in zip(xr,yr):
            xs.append(a); ys.append(b)
    s=np.array([SIZE_CYCLE[i%len(SIZE_CYCLE)] for i in range(len(xs))],float)
    alpha=np.where(s<11,0.5,0.9)
    ax.scatter(xs,ys,s=s,c=color,alpha=alpha,linewidths=0,zorder=z)

for i,p in enumerate(PANELS):
    bl,rd,bc,rc,hist,ylim,yt,ht,hfmt,blue_top=p
    l,r=COLS[i]; t,m,b=ROWS[i//2]
    ax=fig.add_axes(box(l,r,t,m))
    ax2=fig.add_axes(box(l,r,m,b))
    ax.fill_between(KX,bc[1],bc[2],color="blue",alpha=0.2,linewidth=0,zorder=1)
    ax.fill_between(KX,rc[1],rc[2],color="red",alpha=0.2,linewidth=0,zorder=1.1)
    scatter(ax,BLUE_X,bl,"blue",3 if blue_top else 2)
    scatter(ax,RED_X,rd,"red",2 if blue_top else 3)
    ax.plot(KX,bc[0],color="blue",lw=1.6,zorder=4)
    ax.plot(KX,rc[0],color="red",lw=1.6,zorder=4.1)
    ax.set_xlim(*XLIM); ax.set_ylim(*ylim)
    ax.set_yticks(yt); ax.set_xticks([])
    ax.tick_params(labelsize=TICK)
    hx=[HIST_START+HIST_W*(k+.5) for k in range(len(hist))]
    ax2.bar(hx,hist,width=HIST_W,color="royalblue",edgecolor="white",linewidth=0.6)
    ax2.set_xlim(*XLIM); ax2.set_ylim(0,max(hist)*1.05)
    ax2.set_xticks([0,.2,.4,.6,.8,1.0]); ax2.set_yticks(ht)
    ax2.set_yticklabels([hfmt%v for v in ht])
    ax2.tick_params(labelsize=TICK)
    fig.text(TITLE_X[i]/W,1-TITLE_Y[i//2]/H,TITLES[i],family="cmb10",fontsize=23,ha="center",va="center")

fig.text(583/W,1-1619/H,"Pseudotime",family="cmr10",fontsize=21,ha="center",va="center")
fig.savefig("out.png",dpi=100)
